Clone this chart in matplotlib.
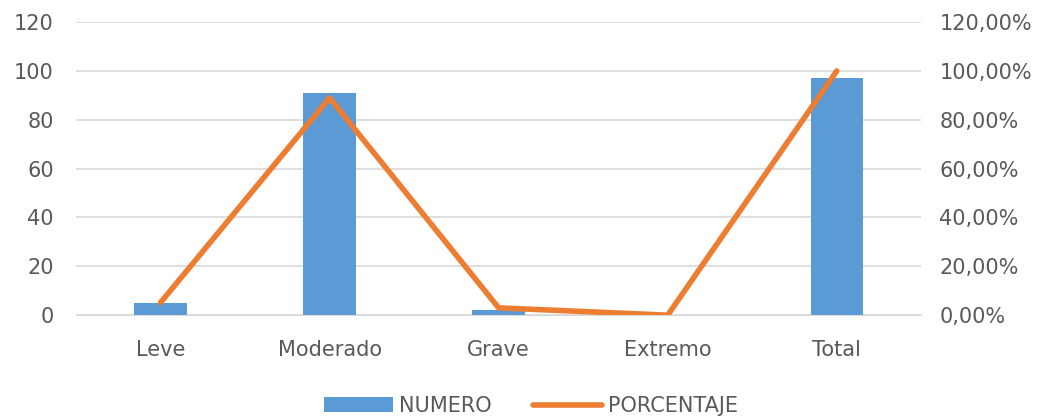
import matplotlib.pyplot as plt
from matplotlib.ticker import FuncFormatter

# datos del grafico
categorias = ['Leve', 'Moderado', 'Grave', 'Extremo', 'Total']
numero = [5, 91, 2, 0, 97]
porcentaje = [5.15, 89.0, 3.0, 0.0, 100.0]

azul = '#5b9bd5'
naranja = '#ed7d31'
gris = '#595959'

plt.rcParams['font.family'] = ['DejaVu Sans']

fig = plt.figure(figsize=(10.41, 4.18), dpi=100)
ax = fig.add_axes([0.073, 0.246, 0.812, 0.701])
ax2 = ax.twinx()

x = range(len(categorias))
ax.bar(x, numero, width=0.31, color=azul, label='NUMERO', zorder=2)
ax2.plot(x, porcentaje, color=naranja, linewidth=4, solid_capstyle='round', label='PORCENTAJE', zorder=3)

# ejes
ax.set_xlim(-0.5, len(categorias) - 0.5)
ax.set_ylim(0, 120)
ax.set_yticks(range(0, 121, 20))
ax2.set_ylim(0, 120)
ax2.set_yticks(range(0, 121, 20))
ax2.yaxis.set_major_formatter(FuncFormatter(lambda v, p: ('%.2f%%' % v).replace('.', ',')))
ax.set_xticks(list(x))
ax.set_xticklabels(categorias)

ax.grid(axis='y', color='#d9d9d9', linewidth=1.2, zorder=0)
ax.set_axisbelow(True)
for a in (ax, ax2):
    for s in a.spines.values():
        s.set_visible(False)
    a.tick_params(length=0, labelsize=15, colors=gris, pad=8)
ax.spines['bottom'].set_visible(True)
ax.spines['bottom'].set_color('#d9d9d9')
ax.tick_params(axis='x', pad=18)
ax.tick_params(axis='y', pad=16)
ax2.tick_params(axis='y', pad=13)

# leyenda abajo
h1, l1 = ax.get_legend_handles_labels()
h2, l2 = ax2.get_legend_handles_labels()
fig.legend(h1 + h2, l1 + l2, loc='lower center', bbox_to_anchor=(0.51, -0.04), ncol=2, frameon=False,
           fontsize=15, labelcolor=gris, handlelength=3.3, handletextpad=0.3, columnspacing=2.0)

fig.savefig('out.png', dpi=100)
